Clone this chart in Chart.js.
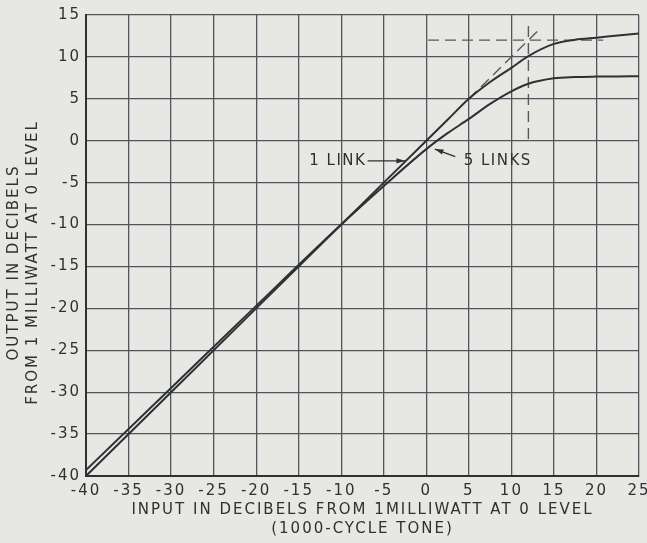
<!DOCTYPE html>
<html>
<head>
<meta charset="utf-8">
<script src="https://cdn.jsdelivr.net/npm/chart.js@4"></script>
<style>
  html, body { margin: 0; padding: 0; background: #e7e7e4; }
  #wrap { width: 647px; height: 543px; }
</style>
</head>
<body>
<div id="wrap"><canvas id="levelChart" width="647" height="543"></canvas></div>
<script>
// input level (db) and output level for each curve
const inputLevels = [-40, -30, -20, -10, -5, 0, 2.5, 5, 7.5, 10, 12, 15, 17.5, 20, 22.5, 25];
const oneLink = [-40, -30, -20, -10, -5, 0, 2.5, 5, 7.0, 8.7, 10.1, 11.55, 12.05, 12.3, 12.55, 12.8];
const fiveLinks = [-39.3, -29.5, -19.7, -10, -5.4, -1.0, 0.9, 2.6, 4.4, 5.9, 6.8, 7.45, 7.6, 7.65, 7.67, 7.7];

// dashed construction lines
const guideHorizX = [0.2, 20.8];
const guideHorizY = [12.0, 12.0];
const guideVertX = [12, 12];
const guideVertY = [0.2, 13.7];
const guideDiagX = [5, 13.3];
const guideDiagY = [5, 13.3];

const xTicks = [-40, -35, -30, -25, -20, -15, -10, -5, 0, 5, 10, 15, 20, 25];
const yTicks = [-40, -35, -30, -25, -20, -15, -10, -5, 0, 5, 10, 15];
const yTitle = ['OUTPUT IN DECIBELS', 'FROM 1 MILLIWATT AT 0 LEVEL'];

function toPoints(xs, ys) {
    return xs.map(function (x, i) { return { x: x, y: ys[i] }; });
}

const ink = '#2e3134';
const gridInk = '#50565a';
const font = 'DejaVu Sans';

const paperPlugin = {
    id: 'paper',
    beforeDraw: function (chart) {
        var ctx = chart.ctx;
        ctx.save();
        ctx.fillStyle = '#e7e7e4';
        ctx.fillRect(0, 0, chart.width, chart.height);
        ctx.restore();
        // the printed lettering is widely spaced
        ctx.letterSpacing = '2px';
    }
};

function arrow(ctx, x1, y1, x2, y2) {
    var a = Math.atan2(y2 - y1, x2 - x1);
    ctx.beginPath();
    ctx.moveTo(x1, y1);
    ctx.lineTo(x2, y2);
    ctx.stroke();
    ctx.beginPath();
    ctx.moveTo(x2, y2);
    ctx.lineTo(x2 - 9 * Math.cos(a - 0.3), y2 - 9 * Math.sin(a - 0.3));
    ctx.lineTo(x2 - 9 * Math.cos(a + 0.3), y2 - 9 * Math.sin(a + 0.3));
    ctx.closePath();
    ctx.fill();
}

const labelPlugin = {
    id: 'curveLabels',
    afterDatasetsDraw: function (chart) {
        var ctx = chart.ctx;
        var xs = chart.scales.x, ys = chart.scales.y;
        ctx.save();
        ctx.fillStyle = ink;
        ctx.strokeStyle = ink;
        ctx.lineWidth = 1.3;
        ctx.font = '15px "' + font + '"';
        ctx.letterSpacing = '1.5px';
        ctx.textAlign = 'center';
        ctx.textBaseline = 'middle';
        ctx.fillText('1 LINK', xs.getPixelForValue(-10.4), ys.getPixelForValue(-2.4));
        arrow(ctx, xs.getPixelForValue(-6.9), ys.getPixelForValue(-2.4),
            xs.getPixelForValue(-2.5), ys.getPixelForValue(-2.4));
        ctx.fillText('5 LINKS', xs.getPixelForValue(8.4), ys.getPixelForValue(-2.4));
        arrow(ctx, xs.getPixelForValue(3.4), ys.getPixelForValue(-1.9),
            xs.getPixelForValue(1.0), ys.getPixelForValue(-1.0));

        // y axis title, set a little below the middle of the axis as printed
        var area = chart.chartArea;
        ctx.letterSpacing = '2px';
        ctx.translate(0, (area.top + area.bottom) / 2 + 17);
        ctx.rotate(-Math.PI / 2);
        ctx.fillText(yTitle[0], 0, 14);
        ctx.fillText(yTitle[1], 0, 33);
        ctx.restore();
    }
};

const dashStyle = {
    borderColor: '#555a5e',
    borderWidth: 1.4,
    borderDash: [11, 6],
    pointRadius: 0,
    fill: false
};

new Chart(document.getElementById('levelChart').getContext('2d'), {
    type: 'line',
    data: {
        datasets: [
            {
                label: '1 LINK',
                data: toPoints(inputLevels, oneLink),
                borderColor: ink,
                borderWidth: 2,
                pointRadius: 0,
                cubicInterpolationMode: 'monotone'
            },
            {
                label: '5 LINKS',
                data: toPoints(inputLevels, fiveLinks),
                borderColor: ink,
                borderWidth: 2,
                pointRadius: 0,
                cubicInterpolationMode: 'monotone'
            },
            Object.assign({ data: toPoints(guideHorizX, guideHorizY) }, dashStyle),
            Object.assign({ data: toPoints(guideVertX, guideVertY) }, dashStyle),
            Object.assign({ data: toPoints(guideDiagX, guideDiagY) }, dashStyle)
        ]
    },
    options: {
        responsive: false,
        animation: false,
        events: [],
        layout: { padding: { top: 15, right: 0, left: 0, bottom: 0 } },
        plugins: {
            legend: { display: false },
            tooltip: { enabled: false }
        },
        scales: {
            x: {
                type: 'linear',
                min: -40,
                max: 25,
                afterBuildTicks: function (scale) {
                    scale.ticks = xTicks.map(function (v) { return { value: v }; });
                },
                afterFit: function (scale) {
                    scale.height = 67;
                    scale.paddingRight = 8;
                },
                grid: { color: gridInk, lineWidth: 1.3, drawTicks: false },
                border: { color: ink, width: 2 },
                ticks: {
                    color: ink,
                    padding: 6,
                    maxRotation: 0,
                    font: { family: font, size: 15 }
                },
                title: {
                    display: true,
                    text: ['INPUT IN DECIBELS FROM 1MILLIWATT AT 0 LEVEL', '(1000-CYCLE TONE)'],
                    color: ink,
                    padding: { top: 0, bottom: 5 },
                    font: { family: font, size: 15, lineHeight: 1.25 }
                }
            },
            y: {
                type: 'linear',
                min: -40,
                max: 15,
                afterBuildTicks: function (scale) {
                    scale.ticks = yTicks.map(function (v) { return { value: v }; });
                },
                afterFit: function (scale) { scale.width = 86; },
                grid: { color: gridInk, lineWidth: 1.3, drawTicks: false },
                border: { color: ink, width: 2 },
                ticks: {
                    color: ink,
                    padding: 5,
                    font: { family: font, size: 15 }
                }
            }
        }
    },
    plugins: [paperPlugin, labelPlugin]
});
</script>
</body>
</html>
